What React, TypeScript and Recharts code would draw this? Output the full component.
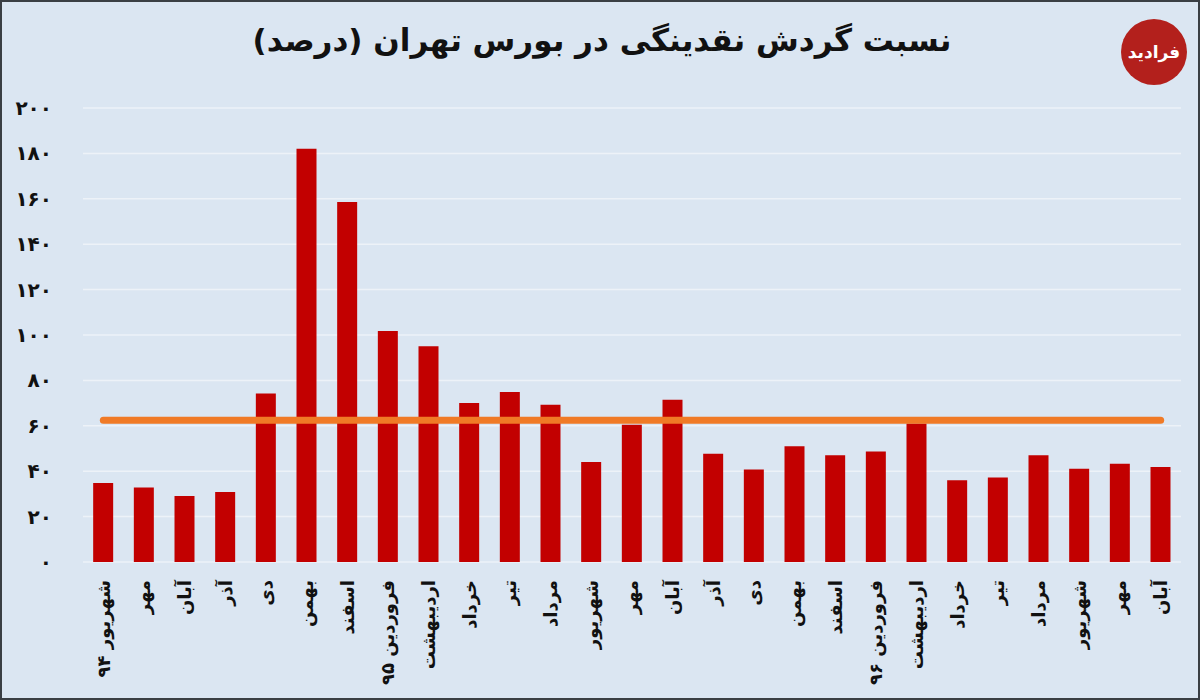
import React from 'react'
import { Bar, CartesianGrid, ComposedChart, ReferenceLine, XAxis, YAxis } from 'recharts'

// months from Shahrivar 94 to Aban 96
const MONTHS = [
  'شهریور ۹۴', 'مهر', 'آبان', 'آذر', 'دی', 'بهمن', 'اسفند',
  'فروردین ۹۵', 'اردیبهشت', 'خرداد', 'تیر', 'مرداد', 'شهریور', 'مهر',
  'آبان', 'آذر', 'دی', 'بهمن', 'اسفند', 'فروردین ۹۶', 'اردیبهشت',
  'خرداد', 'تیر', 'مرداد', 'شهریور', 'مهر', 'آبان',
]
const TURNOVER = [
  34.8, 32.8, 29.1, 30.8, 74.2, 182, 158.6,
  101.8, 95, 70, 74.9, 69.3, 44, 60.5,
  71.5, 47.7, 40.7, 51, 47, 48.7, 61,
  36, 37.2, 47, 41.1, 43.3, 41.8,
]
const AVERAGE = 62.4
const Y_TICKS = [0, 20, 40, 60, 80, 100, 120, 140, 160, 180, 200]
const Y_TICK_LABELS = ['۰', '۲۰', '۴۰', '۶۰', '۸۰', '۱۰۰', '۱۲۰', '۱۴۰', '۱۶۰', '۱۸۰', '۲۰۰']

const FONT = '"DejaVu Sans", sans-serif'

const rows = MONTHS.map((label, i) => ({ id: `m${i}`, label, value: TURNOVER[i] }))

function MonthTick({ x, y, payload }: { x?: number; y?: number; payload?: { value: string } }) {
  const idx = rows.findIndex((r) => r.id === payload?.value)
  return (
    <g transform={`translate(${x},${y})`}>
      <text
        transform="rotate(-90)"
        x={-10}
        y={0}
        dy="0.35em"
        textAnchor="end"
        fontFamily={FONT}
        fontWeight="bold"
        fontSize={18}
        fill="#111"
      >
        {MONTHS[idx] ?? ''}
      </text>
    </g>
  )
}

function ValueTick({ y, payload }: { y?: number; payload?: { value: number } }) {
  const i = Y_TICKS.indexOf(Number(payload?.value))
  return (
    <text x={52} y={y} dy="0.35em" textAnchor="end" fontFamily={FONT} fontWeight="bold" fontSize={20} fill="#111">
      {Y_TICK_LABELS[i] ?? ''}
    </text>
  )
}

export default function App() {
  return (
    <div
      style={{
        position: 'absolute',
        left: 0,
        top: 0,
        width: 1200,
        height: 700,
        boxSizing: 'border-box',
        background: '#dbe6f2',
        border: '2px solid #3a3f44',
        overflow: 'hidden',
      }}
    >
      <div
        dir="rtl"
        style={{
          position: 'absolute',
          left: 0,
          width: 1200,
          top: 20,
          textAlign: 'center',
          fontFamily: FONT,
          fontWeight: 'bold',
          fontSize: 31,
          color: '#111',
        }}
      >
        نسبت گردش نقدینگی در بورس تهران (درصد)
      </div>
      <div
        style={{
          position: 'absolute',
          left: 1119,
          top: 17,
          width: 66,
          height: 66,
          borderRadius: '50%',
          background: '#b3201c',
          color: '#fff',
          fontFamily: FONT,
          fontWeight: 'bold',
          fontSize: 17,
          display: 'flex',
          alignItems: 'center',
          justifyContent: 'center',
        }}
      >
        فرادید
      </div>
      <div style={{ position: 'absolute', left: -2, top: -2 }}>
        <ComposedChart
          width={1200}
          height={700}
          data={rows}
          margin={{ top: 108, right: 19, bottom: 0, left: 13 }}
          barCategoryGap="25%"
        >
          <CartesianGrid vertical={false} stroke="#edf2f8" strokeWidth={1.5} />
          <XAxis
            dataKey="id"
            height={138}
            interval={0}
            axisLine={false}
            tickLine={false}
            tick={<MonthTick />}
          />
          <YAxis
            width={70}
            domain={[0, 200]}
            ticks={Y_TICKS}
            interval={0}
            axisLine={false}
            tickLine={false}
            tick={<ValueTick />}
          />
          <Bar dataKey="value" fill="#c20000" isAnimationActive={false} />
          <ReferenceLine
            segment={[
              { x: rows[0].id, y: AVERAGE },
              { x: rows[rows.length - 1].id, y: AVERAGE },
            ]}
            stroke="#f07a26"
            strokeWidth={7}
            strokeLinecap="round"
          />
        </ComposedChart>
      </div>
    </div>
  )
}
